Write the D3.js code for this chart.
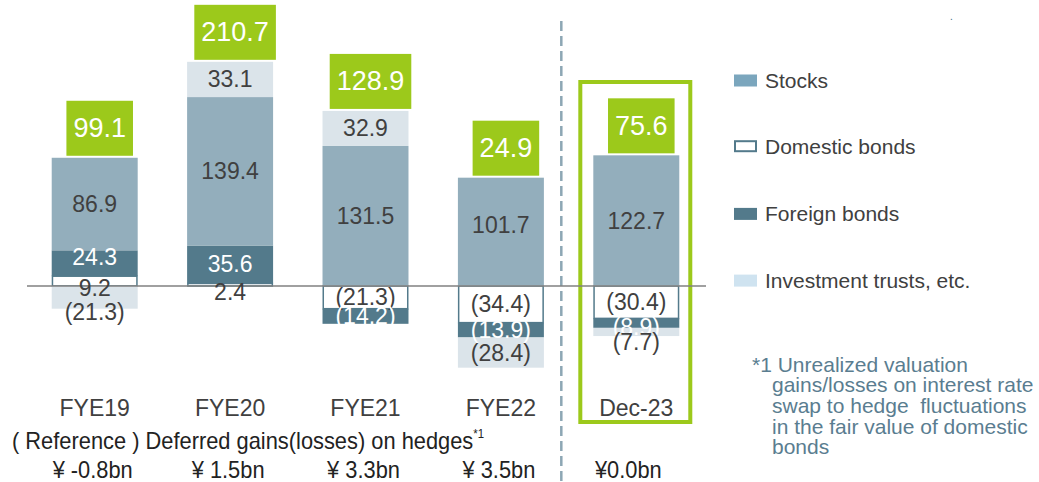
<!DOCTYPE html>
<html>
<head>
<meta charset="utf-8">
<script src="https://cdn.jsdelivr.net/npm/d3@7"></script>
<style>
  body { margin: 0; background: #fff; }
  text { font-family: "Liberation Sans", Arial, sans-serif; white-space: pre; }
</style>
</head>
<body>
<div id="chart"></div>
<script>
/* Unrealized gains/losses on securities, by asset type */

const categories = ["FYE19", "FYE20", "FYE21", "FYE22", "Dec-23"];
const stocks = [86.9, 139.4, 131.5, 101.7, 122.7];
const domesticBonds = [9.2, 2.4, -21.3, -34.4, -30.4];
const foreignBonds = [24.3, 35.6, -14.2, -13.9, -8.9];
const investmentTrusts = [-21.3, 33.1, 32.9, -28.4, -7.7];
const totals = [99.1, 210.7, 128.9, 24.9, 75.6];
const hedgeGains = ["¥ -0.8bn", "¥ 1.5bn", "¥ 3.3bn", "¥ 3.5bn", "¥0.0bn"];
const seriesNames = ["Domestic bonds", "Foreign bonds", "Stocks", "Investment trusts, etc."];
const legendOrder = ["Stocks", "Domestic bonds", "Foreign bonds", "Investment trusts, etc."];
const footnoteLines = ["*1 Unrealized valuation", "gains/losses on interest rate",
  "swap to hedge  fluctuations", "in the fair value of domestic", "bonds"];

const width = 1039, height = 482;
const zeroY = 286, k = 1.065;

const barColor = { "Stocks": "#93aebc", "Domestic bonds": "#ffffff", "Foreign bonds": "#537a8b", "Investment trusts, etc.": "#dbe4ea" };
const keyColor = { "Stocks": "#7ba6bd", "Domestic bonds": "#ffffff", "Foreign bonds": "#537a8b", "Investment trusts, etc.": "#cfe3f0" };
const textColor = { "Stocks": "#404040", "Domestic bonds": "#404040", "Foreign bonds": "#ffffff", "Investment trusts, etc.": "#404040" };
const green = "#9cc91b";

// hand nudges for crowded labels (px)
const labelNudge = {
  "FYE19|Foreign bonds": -6, "FYE19|Domestic bonds": 7, "FYE19|Investment trusts, etc.": 15,
  "FYE20|Domestic bonds": 7, "FYE22|Stocks": -7,
  "Dec-23|Foreign bonds": 4, "Dec-23|Investment trusts, etc.": 10
};

const svg = d3.select("#chart").append("svg")
  .attr("width", width).attr("height", height);

const table = categories.map((c, i) => ({
  cat: c,
  "Domestic bonds": domesticBonds[i],
  "Foreign bonds": foreignBonds[i],
  "Stocks": stocks[i],
  "Investment trusts, etc.": investmentTrusts[i]
}));

const stack = d3.stack().keys(seriesNames).offset(d3.stackOffsetDiverging);
const series = stack(table);

const x = d3.scaleBand().domain(categories).range([27, 704])
  .paddingInner(0.365).paddingOuter(0.1825);
const y = d3.scaleLinear().domain([-100, 250]).range([zeroY + 100 * k, zeroY - 250 * k]);

const cx = c => x(c) + x.bandwidth() / 2;

// dashed divider and highlight box
svg.append("line")
  .attr("x1", x("Dec-23") - 32).attr("x2", x("Dec-23") - 32)
  .attr("y1", 21).attr("y2", height)
  .attr("stroke", "#8da7b4").attr("stroke-width", 2.5).attr("stroke-dasharray", "10,5");

svg.append("rect")
  .attr("x", x("Dec-23") - 13).attr("y", 82)
  .attr("width", x.bandwidth() + 24).attr("height", 340)
  .attr("fill", "none").attr("stroke", green).attr("stroke-width", 4);

// bars
const g = svg.append("g");
series.forEach(s => {
  g.selectAll(null).data(s).join("rect")
    .attr("x", d => x(d.data.cat) + (s.key === "Domestic bonds" ? 0.75 : 0))
    .attr("width", x.bandwidth() - (s.key === "Domestic bonds" ? 1.5 : 0))
    .attr("y", d => y(Math.max(d[0], d[1])))
    .attr("height", d => Math.abs(y(d[0]) - y(d[1])))
    .attr("fill", barColor[s.key])
    .attr("stroke", s.key === "Domestic bonds" ? "#537a8b" : "none")
    .attr("stroke-width", 1.5);
});

// baseline over the bars
svg.append("line")
  .attr("x1", x.range()[0]).attr("x2", x.range()[1] + 2)
  .attr("y1", y(0)).attr("y2", y(0))
  .attr("stroke", "#808080").attr("stroke-width", 1.3);

// segment labels
const fmt = v => v < 0 ? `(${d3.format(".1f")(-v)})` : d3.format(".1f")(v);
series.forEach(s => {
  svg.append("g").selectAll("text").data(s).join("text")
    .attr("x", d => cx(d.data.cat))
    .attr("y", d => (y(d[0]) + y(d[1])) / 2 + (labelNudge[d.data.cat + "|" + s.key] || 0))
    .attr("text-anchor", "middle")
    .attr("dominant-baseline", "central")
    .attr("font-size", 23)
    .attr("fill", textColor[s.key])
    .text(d => fmt(d.data[s.key]));
});

// total boxes
const topOf = categories.map((c, i) => y(d3.sum([stocks[i], domesticBonds[i], foreignBonds[i], investmentTrusts[i]].filter(v => v > 0))));
categories.forEach((c, i) => {
  const label = d3.format(".1f")(totals[i]);
  const t = svg.append("text")
    .attr("x", cx(c) + 5).attr("y", topOf[i] - 2 - 27.5)
    .attr("text-anchor", "middle").attr("dominant-baseline", "central")
    .attr("font-size", 27).attr("fill", "#fff")
    .text(label);
  const bw = t.node().getComputedTextLength() + 14;
  svg.insert("rect", () => t.node())
    .attr("x", cx(c) + 5 - bw / 2).attr("y", topOf[i] - 2 - 55)
    .attr("width", bw).attr("height", 55)
    .attr("fill", green);
});

// category labels
svg.append("g").selectAll("text").data(categories).join("text")
  .attr("x", d => cx(d)).attr("y", 408)
  .attr("text-anchor", "middle").attr("dominant-baseline", "central")
  .attr("font-size", 23).attr("fill", "#404040")
  .text(d => d);

// legend
const lg = svg.append("g").attr("transform", "translate(734,80)");
legendOrder.forEach((name, i) => {
  const row = lg.append("g").attr("transform", `translate(0,${i * 66.7})`);
  row.append("rect")
    .attr("x", name === "Domestic bonds" ? 1 : 0).attr("y", -5.5)
    .attr("width", name === "Domestic bonds" ? 21 : 23).attr("height", name === "Domestic bonds" ? 10 : 12)
    .attr("fill", keyColor[name])
    .attr("stroke", name === "Domestic bonds" ? "#537a8b" : "none").attr("stroke-width", 2);
  row.append("text")
    .attr("x", 31).attr("y", 0).attr("dominant-baseline", "central")
    .attr("font-size", 21).attr("fill", "#404040")
    .text(name);
});

// footnote
svg.append("g").selectAll("text").data(footnoteLines).join("text")
  .attr("x", (d, i) => i === 0 ? 752 : 772)
  .attr("y", (d, i) => 364 + i * 20.7)
  .attr("dominant-baseline", "central")
  .attr("font-size", 21).attr("fill", "#5a7d90")
  .text(d => d);

// reference row (slightly condensed type)
const refRow = svg.append("g").attr("transform", "translate(12,0) scale(0.95,1)");
const ref = refRow.append("text")
  .attr("x", 0).attr("y", 441).attr("dominant-baseline", "central")
  .attr("font-size", 23).attr("fill", "#222");
ref.append("tspan").text("( Reference ) Deferred gains(losses) on hedges");
ref.append("tspan").attr("font-size", 12).attr("dy", -8).text("*1");

const yenRow = svg.append("g");
hedgeGains.forEach((d, i) => {
  yenRow.append("g")
    .attr("transform", `translate(${cx(categories[i]) - (i === 4 ? 8 : 2)},470) scale(0.95,1)`)
    .append("text")
    .attr("text-anchor", "middle").attr("dominant-baseline", "central")
    .attr("font-size", 23).attr("fill", "#222")
    .text(d);
});

svg.append("text").attr("x", 950).attr("y", 20)
  .attr("font-size", 10).attr("fill", "#3d6b85").text(".");
</script>
</body>
</html>
